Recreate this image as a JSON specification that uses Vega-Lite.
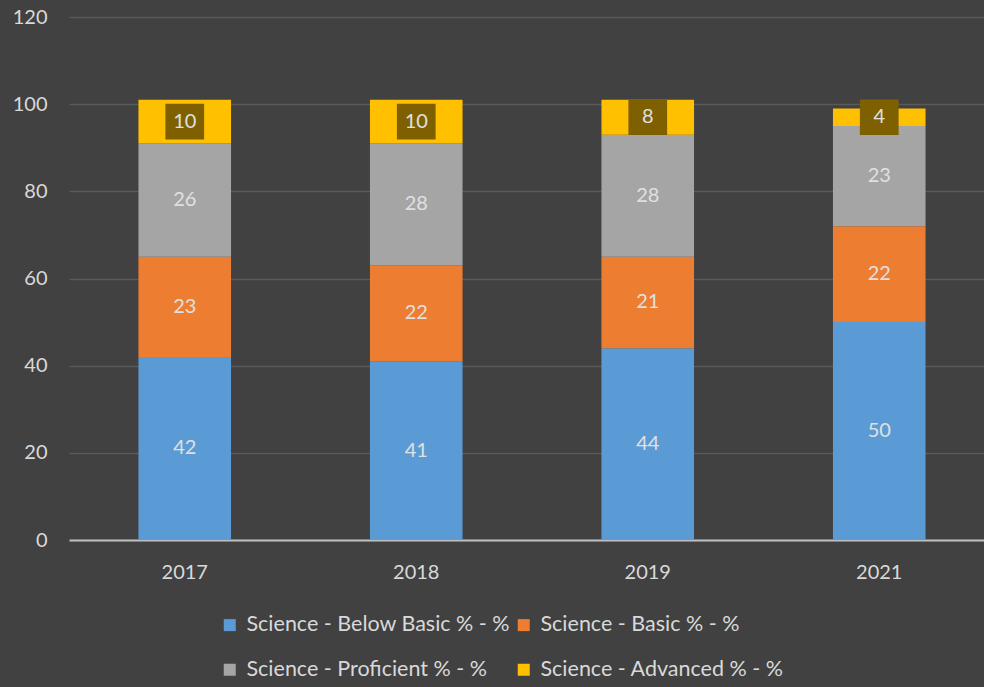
{
  "$schema": "https://vega.github.io/schema/vega-lite/v6.json",
  "width": 915,
  "height": 523,
  "autosize": {"type": "none"},
  "padding": {"left": 69, "top": 17, "right": 0, "bottom": 147},
  "background": "#414141",
  "config": {
    "font": "Lato",
    "view": {"stroke": null},
    "axis": {"labelFont": "Lato", "labelColor": "#d9d9d9", "labelFontSize": 20}
  },
  "data": {
    "values": [
      {"year": "2017", "series": "Science - Below Basic % - %", "k": 1, "value": 42},
      {"year": "2017", "series": "Science - Basic % - %", "k": 2, "value": 23},
      {"year": "2017", "series": "Science - Proficient % - %", "k": 3, "value": 26},
      {"year": "2017", "series": "Science - Advanced % - %", "k": 4, "value": 10},
      {"year": "2018", "series": "Science - Below Basic % - %", "k": 1, "value": 41},
      {"year": "2018", "series": "Science - Basic % - %", "k": 2, "value": 22},
      {"year": "2018", "series": "Science - Proficient % - %", "k": 3, "value": 28},
      {"year": "2018", "series": "Science - Advanced % - %", "k": 4, "value": 10},
      {"year": "2019", "series": "Science - Below Basic % - %", "k": 1, "value": 44},
      {"year": "2019", "series": "Science - Basic % - %", "k": 2, "value": 21},
      {"year": "2019", "series": "Science - Proficient % - %", "k": 3, "value": 28},
      {"year": "2019", "series": "Science - Advanced % - %", "k": 4, "value": 8},
      {"year": "2021", "series": "Science - Below Basic % - %", "k": 1, "value": 50},
      {"year": "2021", "series": "Science - Basic % - %", "k": 2, "value": 22},
      {"year": "2021", "series": "Science - Proficient % - %", "k": 3, "value": 23},
      {"year": "2021", "series": "Science - Advanced % - %", "k": 4, "value": 4}
    ]
  },
  "transform": [
    {"stack": "value", "groupby": ["year"], "sort": [{"field": "k", "order": "ascending"}], "as": ["v0", "v1"]},
    {"calculate": "(datum.v0 + datum.v1) / 2", "as": "mid"}
  ],
  "encoding": {
    "x": {
      "field": "year",
      "type": "nominal",
      "title": null,
      "scale": {"range": [0, 926], "paddingInner": 0.6, "paddingOuter": 0.3},
      "axis": {"labelAngle": 0, "ticks": false, "labelPadding": 22, "domainColor": "#bfbfbf", "domainWidth": 2, "grid": false}
    }
  },
  "layer": [
    {
      "mark": {"type": "bar"},
      "encoding": {
        "y": {
          "field": "v0",
          "type": "quantitative",
          "title": null,
          "scale": {"domain": [0, 120]},
          "axis": {"values": [0, 20, 40, 60, 80, 100, 120], "domain": false, "ticks": false, "labelPadding": 22, "gridColor": "#5a5a5a", "gridWidth": 1.5}
        },
        "y2": {"field": "v1"},
        "color": {
          "field": "series",
          "type": "nominal",
          "scale": {
            "domain": ["Science - Below Basic % - %", "Science - Basic % - %", "Science - Proficient % - %", "Science - Advanced % - %"],
            "range": ["#5b9bd5", "#ed7d31", "#a5a5a5", "#ffc000"]
          },
          "legend": {
            "title": null,
            "orient": "none",
            "legendX": 150,
            "legendY": 597,
            "columns": 2,
            "direction": "horizontal",
            "symbolType": "square",
            "symbolSize": 144,
            "symbolStrokeWidth": 0,
            "labelFontSize": 21.5,
            "labelColor": "#d9d9d9",
            "labelFont": "Lato",
            "labelLimit": 400,
            "labelOffset": 6,
            "columnPadding": 3,
            "rowPadding": 22,
            "padding": 0
          }
        }
      }
    },
    {
      "transform": [{"filter": "datum.k == 4"}],
      "mark": {"type": "point", "shape": "M-1,-0.92H1V0.92H-1Z", "filled": true, "color": "#7f6000", "opacity": 1, "size": 1500},
      "encoding": {"y": {"field": "mid", "type": "quantitative"}}
    },
    {
      "mark": {"type": "text", "fontSize": 20, "color": "#e0e0e0", "font": "Lato"},
      "encoding": {
        "y": {"field": "mid", "type": "quantitative"},
        "text": {"field": "value", "type": "quantitative"}
      }
    }
  ]
}
